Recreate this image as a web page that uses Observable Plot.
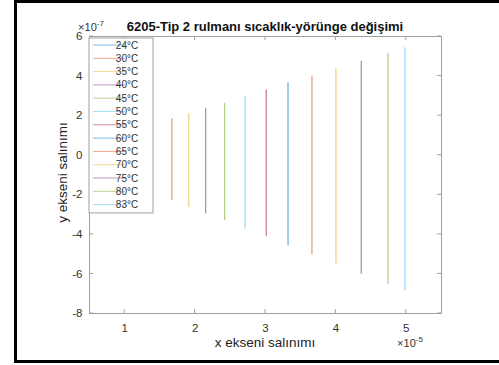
<!DOCTYPE html>
<html>
<head>
<meta charset="utf-8">
<script src="https://cdn.jsdelivr.net/npm/d3@7"></script>
<script src="https://cdn.jsdelivr.net/npm/@observablehq/plot@0.6"></script>
<style>
  html, body { margin: 0; padding: 0; background: #fff; overflow: hidden; }
  #chart { position: absolute; left: 0; top: 0; width: 499px; height: 365px; overflow: hidden; }
</style>
</head>
<body>
<div id="chart"></div>
<script>
// Series labels (legend) and MATLAB default colours
const temps = ["24°C","30°C","35°C","40°C","45°C","50°C","55°C","60°C","65°C","70°C","75°C","80°C","83°C"];
const colors = ["#0072BD","#D95319","#EDB120","#7E2F8E","#77AC30","#4DBEEE","#A2142F","#0072BD","#D95319","#EDB120","#7E2F8E","#77AC30","#4DBEEE"];
// Visible orbit lines (24°C not visible in the reference); x in 1e-5, y in 1e-7
const lineTemps = ["30°C","35°C","40°C","45°C","50°C","55°C","60°C","65°C","70°C","75°C","80°C","83°C"];
const xPos = [1.67, 1.91, 2.15, 2.42, 2.71, 3.01, 3.32, 3.66, 4.00, 4.36, 4.74, 4.98];
const yMax = [1.84, 2.09, 2.37, 2.63, 2.96, 3.30, 3.66, 3.99, 4.37, 4.75, 5.15, 5.43];
const yMin = [-2.30, -2.64, -2.97, -3.31, -3.73, -4.10, -4.58, -5.03, -5.50, -6.01, -6.52, -6.85];
const xTicks = [1, 2, 3, 4, 5];
const yTicks = [-8, -6, -4, -2, 0, 2, 4, 6];
const title = "6205-Tip 2 rulmanı sıcaklık-yörünge değişimi";
const xLabel = "x ekseni salınımı";
const yLabel = "y ekseni salınımı";

const data = lineTemps.map((t, i) => ({t, x: xPos[i], y1: yMin[i], y2: yMax[i], c: colors[temps.indexOf(t)]}));

const W = 499, H = 365, mL = 89, mR = 58, mT = 36, mB = 52;
const axisColor = "#a0a0a0", textColor = "#333";
const font = "Liberation Sans, Arial, sans-serif";

const plot = Plot.plot({
  width: W, height: H,
  marginLeft: mL, marginRight: mR, marginTop: mT, marginBottom: mB,
  style: {fontFamily: font, fontSize: "11.5px", color: textColor, background: "transparent"},
  x: {domain: [0.5, 5.5]},
  y: {domain: [-8, 6]},
  marks: [
    Plot.ruleX(data, {x: "x", y1: "y1", y2: "y2", stroke: "c", strokeWidth: 1.2, strokeOpacity: 0.6}),
    Plot.frame({stroke: axisColor, strokeWidth: 1}),
    Plot.axisX(xTicks, {anchor: "bottom", tickSize: 0, tickPadding: 10, label: null, fill: textColor, tickFormat: d => String(d)}),
    Plot.axisY(yTicks, {anchor: "left", tickSize: 0, tickPadding: 7, label: null, fill: textColor, tickFormat: d => String(d)})
  ]
});
document.getElementById("chart").appendChild(plot);

const svg = d3.select(plot);
const sx = plot.scale("x"), sy = plot.scale("y");
// outer black frame (open on the right, as in the reference crop)
const fr = svg.append("g").attr("stroke", "#000").attr("stroke-width", 3);
fr.append("line").attr("x1", 15.5).attr("x2", W).attr("y1", 1.5).attr("y2", 1.5);
fr.append("line").attr("x1", 15.5).attr("x2", W).attr("y1", 361.5).attr("y2", 361.5);
fr.append("line").attr("x1", 15.5).attr("x2", 15.5).attr("y1", 0).attr("y2", 363);

// inward tick marks on all four sides via the plot's scales
const tk = svg.append("g").attr("stroke", axisColor).attr("stroke-width", 1);
const x0 = mL, x1 = W - mR, y0 = mT, y1 = H - mB, tl = 4;
xTicks.forEach(v => {
  const px = sx.apply(v);
  tk.append("line").attr("x1", px).attr("x2", px).attr("y1", y1).attr("y2", y1 - tl);
  tk.append("line").attr("x1", px).attr("x2", px).attr("y1", y0).attr("y2", y0 + tl);
});
yTicks.forEach(v => {
  const py = sy.apply(v);
  tk.append("line").attr("y1", py).attr("y2", py).attr("x1", x0).attr("x2", x0 + tl);
  tk.append("line").attr("y1", py).attr("y2", py).attr("x1", x1).attr("x2", x1 - tl);
});

// title
svg.append("text").attr("x", (x0 + x1) / 2).attr("y", 31).attr("text-anchor", "middle")
  .attr("font-family", font).attr("font-weight", "bold").attr("font-size", 13).attr("fill", "#111").text(title);
// exponent labels
const e1 = svg.append("text").attr("x", x0 + 2).attr("y", 31).attr("font-family", font).attr("font-size", 11).attr("fill", textColor);
e1.append("tspan").text("×10");
e1.append("tspan").attr("dy", -5).attr("font-size", 8).text("-7");
const e2 = svg.append("text").attr("x", 410).attr("y", 347).attr("font-family", font).attr("font-size", 11).attr("fill", textColor);
e2.append("tspan").text("×10");
e2.append("tspan").attr("dy", -5).attr("font-size", 8).text("-5");
// axis labels
svg.append("text").attr("x", (x0 + x1) / 2).attr("y", 347).attr("text-anchor", "middle")
  .attr("font-family", font).attr("font-size", 13.5).attr("fill", "#222").text(xLabel);
svg.append("text").attr("transform", `translate(67,${(y0 + y1) / 2 - 2}) rotate(-90)`).attr("text-anchor", "middle")
  .attr("font-family", font).attr("font-size", 13.5).attr("fill", "#222").text(yLabel);

// legend
const lg = svg.append("g");
const lx = 89, ly = 38, lw = 64, rowH = 13.3;
lg.append("rect").attr("x", lx).attr("y", ly).attr("width", lw).attr("height", rowH * temps.length + 2)
  .attr("fill", "#fff").attr("stroke", axisColor).attr("stroke-width", 1);
temps.forEach((t, i) => {
  const yy = ly + 7 + i * rowH;
  lg.append("line").attr("x1", lx + 4).attr("x2", lx + 36).attr("y1", yy).attr("y2", yy)
    .attr("stroke", colors[i]).attr("stroke-width", 1).attr("stroke-opacity", 0.5);
  lg.append("text").attr("x", lx + 38).attr("y", yy + 3.5).attr("font-family", font).attr("font-size", 10)
    .attr("fill", textColor).text(t);
});
</script>
</body>
</html>
